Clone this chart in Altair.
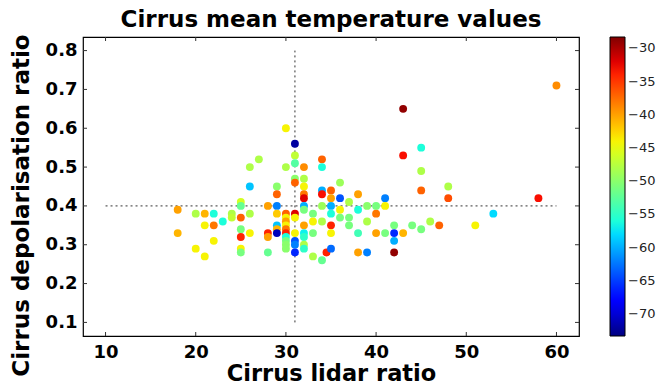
import altair as alt
import pandas as pd

# ---- data ----
lidar_ratio = [
    18, 18, 20, 20, 21, 21, 21, 22, 22, 22, 23, 24, 24,
    25, 25, 25, 25, 25, 25, 25, 26, 26, 26, 26, 27,
    28, 28, 28, 28, 29, 29, 29, 29, 29, 29, 29,
    30, 30, 30, 30, 30, 30, 30, 30, 30, 30, 30, 30,
    31, 31, 31, 31, 31, 31, 31, 31, 31, 31, 31,
    32, 32, 32, 32, 32, 32, 32, 32, 32, 32, 32, 32,
    33, 33, 33, 33, 34, 34, 34, 34, 34, 34, 34, 34.5,
    35, 35, 35, 35, 35, 35, 35, 36, 36, 36, 36, 37, 37, 37,
    38, 38, 38, 38, 39, 39, 39, 40, 40, 40, 41, 41, 41,
    42, 42, 42, 42, 43, 43, 43, 44, 45, 45, 45, 45, 46, 47,
    48, 48, 51, 53, 58, 60,
]
depol_ratio = [
    0.39, 0.33, 0.38, 0.29, 0.38, 0.35, 0.27, 0.38, 0.35, 0.31, 0.36, 0.38, 0.37,
    0.41, 0.40, 0.37, 0.34, 0.32, 0.29, 0.28, 0.50, 0.45, 0.38, 0.33, 0.52,
    0.40, 0.33, 0.32, 0.28, 0.45, 0.43, 0.40, 0.38, 0.35, 0.34, 0.33,
    0.60, 0.50, 0.38, 0.37, 0.36, 0.35, 0.34, 0.33, 0.32, 0.31, 0.30, 0.29,
    0.56, 0.53, 0.51, 0.47, 0.46, 0.38, 0.37, 0.33, 0.31, 0.30, 0.28,
    0.50, 0.47, 0.45, 0.43, 0.42, 0.40, 0.39, 0.35, 0.33, 0.32, 0.30, 0.29,
    0.38, 0.36, 0.33, 0.27, 0.52, 0.50, 0.44, 0.43, 0.40, 0.36, 0.26, 0.28,
    0.44, 0.42, 0.40, 0.38, 0.35, 0.33, 0.29, 0.46, 0.42, 0.39, 0.37, 0.41, 0.37, 0.35,
    0.43, 0.39, 0.33, 0.28, 0.40, 0.36, 0.28, 0.40, 0.38, 0.33, 0.42, 0.40, 0.33,
    0.35, 0.33, 0.31, 0.28, 0.65, 0.53, 0.33, 0.35, 0.55, 0.49, 0.44, 0.34, 0.36, 0.35,
    0.45, 0.42, 0.35, 0.38, 0.42, 0.71,
]
mean_temp = [
    -40, -41, -48, -44, -41, -44, -44, -56, -38, -44, -56, -48, -47,
    -46, -52, -37, -51, -34, -44, -51, -48, -59, -48, -44, -48,
    -40, -34, -40, -52, -50, -37, -62, -42, -59, -41, -71,
    -44, -48, -37, -44, -40, -44, -38, -34, -56, -51, -50, -50,
    -72, -47, -53, -50, -37, -32, -44, -44, -64, -62, -66,
    -39, -48, -44, -38, -32, -60, -51, -40, -57, -55, -48, -55,
    -51, -44, -51, -48, -37, -56, -60, -33, -49, -48, -52, -34,
    -37, -40, -60, -56, -34, -44, -63, -49, -64, -44, -51, -48, -51, -51,
    -40, -56, -54, -40, -50, -48, -62, -51, -38, -40, -62, -44, -51,
    -51, -66, -60, -29, -29, -33, -41, -51, -56, -48, -37, -51, -48, -37,
    -48, -36, -44, -58, -33, -39,
]

x_ticks = [10, 20, 30, 40, 50, 60]
y_ticks = [0.1, 0.2, 0.3, 0.4, 0.5, 0.6, 0.7, 0.8]
cbar_ticks = [-70, -65, -60, -55, -50, -45, -40, -35, -30]
x_limits = [7.5, 62.5]
y_limits = [0.065, 0.835]
t_limits = [-73.3, -28.3]

# reference lines (x = 31 vertical, y = 0.4 horizontal)
vline_x = [31]
vline_y = [0.1]
vline_y2 = [0.8]
hline_y = [0.4]
hline_x = [10]
hline_x2 = [60]

# jet colour map stops (fraction of range, colour)
jet_frac = [0, 0.11, 0.125, 0.34, 0.375, 0.5, 0.64, 0.66, 0.89, 0.91, 1]
jet_cols = ["#000080", "#0000ff", "#0000ff", "#00dbff", "#14ffe2", "#7bff7b",
            "#eeff08", "#ffec00", "#ff1300", "#e80000", "#800000"]
jet_domain = [t_limits[0] + f * (t_limits[1] - t_limits[0]) for f in jet_frac]

W, H = 496, 299
FONT = "DejaVu Sans"

df = pd.DataFrame({"x": lidar_ratio, "y": depol_ratio, "T": mean_temp})

xs = alt.Scale(domain=x_limits, nice=False, zero=False)
ys = alt.Scale(domain=y_limits, nice=False, zero=False)

x_axis = alt.Axis(values=x_ticks, labelFontSize=18, labelFontWeight="bold", labelFont=FONT,
                  labelColor="black", title="Cirrus lidar ratio", titleFontSize=22.5,
                  titleFontWeight="bold", titleFont=FONT, titleColor="black",
                  domain=False, ticks=False, grid=False, labelPadding=7, titlePadding=1)
y_axis = alt.Axis(values=y_ticks, format=".1f", labelFontSize=18, labelFontWeight="bold",
                  labelFont=FONT, labelColor="black", title="Cirrus depolarisation ratio",
                  titleFontSize=23, titleFontWeight="bold", titleFont=FONT, titleColor="black",
                  titleY=168, titleAnchor="middle",
                  domain=False, ticks=False, grid=False, labelPadding=6, titlePadding=12)

hline = alt.Chart(pd.DataFrame({"y": hline_y, "x": hline_x, "x2": hline_x2})).mark_rule(
    color="#333333", strokeDash=[2, 3], strokeWidth=1
).encode(x=alt.X("x:Q", scale=xs, axis=x_axis), x2="x2:Q", y=alt.Y("y:Q", scale=ys, axis=y_axis))

vline = alt.Chart(pd.DataFrame({"x": vline_x, "y": vline_y, "y2": vline_y2})).mark_rule(
    color="#333333", strokeDash=[2, 3], strokeWidth=1
).encode(x=alt.X("x:Q", scale=xs), y=alt.Y("y:Q", scale=ys), y2="y2:Q")

points = alt.Chart(df).mark_circle(size=62, opacity=1).encode(
    x=alt.X("x:Q", scale=xs),
    y=alt.Y("y:Q", scale=ys),
    color=alt.Color(
        "T:Q",
        scale=alt.Scale(domain=jet_domain, range=jet_cols, interpolate="rgb"),
        legend=alt.Legend(title=None, values=cbar_ticks, gradientLength=H,
                          gradientThickness=15, labelFontSize=13, labelFont=FONT,
                          labelColor="#222222", offset=31, padding=0,
                          gradientStrokeColor="black", gradientStrokeWidth=1,
                          labelOffset=3),
    ),
)

xt = pd.DataFrame({"v": x_ticks})
yt = pd.DataFrame({"v": y_ticks})
tick_style = dict(color="#333333", strokeWidth=1)
xb = alt.Chart(xt).mark_rule(**tick_style).encode(x=alt.X("v:Q", scale=xs), y=alt.value(H), y2=alt.value(H - 4))
xtp = alt.Chart(xt).mark_rule(**tick_style).encode(x=alt.X("v:Q", scale=xs), y=alt.value(0), y2=alt.value(4))
yl = alt.Chart(yt).mark_rule(**tick_style).encode(y=alt.Y("v:Q", scale=ys), x=alt.value(0), x2=alt.value(4))
yr = alt.Chart(yt).mark_rule(**tick_style).encode(y=alt.Y("v:Q", scale=ys), x=alt.value(W), x2=alt.value(W - 4))

chart = alt.layer(hline, vline, points, xb, xtp, yl, yr).properties(
    width=W, height=H,
    title=alt.TitleParams("Cirrus mean temperature values", fontSize=23, fontWeight="bold",
                          font=FONT, color="black", anchor="middle", offset=2),
    autosize=alt.AutoSizeParams(type="none"),
    padding={"left": 83, "top": 37, "right": 656 - 83 - W, "bottom": 385 - 37 - H},
).configure(background="white").configure_view(stroke="black", strokeWidth=1.2)

chart.save("out.html", embed_options={"renderer": "svg", "actions": False})
